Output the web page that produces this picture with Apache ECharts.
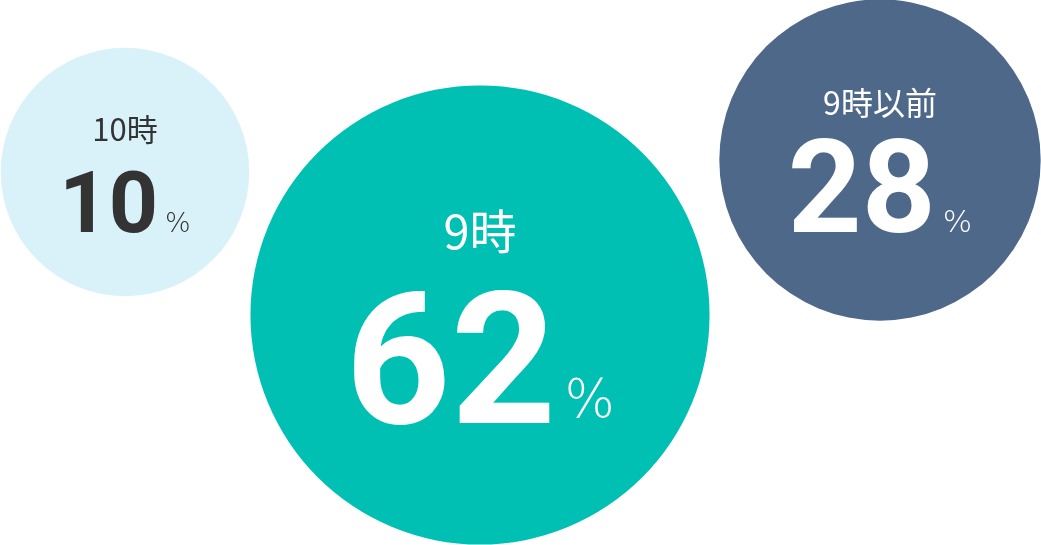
<!DOCTYPE html>
<html>
<head>
<meta charset="utf-8">
<script src="https://cdn.jsdelivr.net/npm/echarts@6/dist/echarts.min.js"></script>
<style>
  html, body { margin: 0; padding: 0; background: #fff; }
  #main { width: 1041px; height: 545px; }
</style>
</head>
<body>
<div id="main"></div>
<script>
// data
var names = ['10時', '9時', '9時以前'];
var shares = [10, 62, 28];
var xPos = [125, 480, 880];
var yPos = [172, 315, 160];

// styles
var fills = ['#d9f2fa', '#00bfb3', '#4d6889'];
var textColors = ['#333333', '#ffffff', '#ffffff'];
var titleSizes = [31, 47, 32];
var numSizes = [86, 184, 129];
var pctSizes = [27, 53, 31];
var pctGaps = [7, 8, 7];
var titleLines = [107, 183, 113];
var numLines = [56, 107, 80];
var labelShift = [-15, -30, -17];

var myChart = echarts.init(document.getElementById('main'));

var points = [];
for (var i = 0; i < names.length; i++) {
    points.push({
        name: names[i],
        value: [xPos[i], yPos[i], shares[i]],
        itemStyle: { color: fills[i], opacity: 1 },
        label: {
            color: textColors[i],
            offset: [0, labelShift[i]],
            rich: {
                t: {
                    fontFamily: 'Noto Sans CJK JP',
                    fontSize: titleSizes[i],
                    color: textColors[i],
                    lineHeight: titleLines[i]
                },
                n: {
                    fontFamily: 'Roboto',
                    fontWeight: 700,
                    fontSize: numSizes[i],
                    color: textColors[i],
                    lineHeight: numLines[i]
                },
                p: {
                    fontFamily: 'DejaVu Sans',
                    fontWeight: 200,
                    fontSize: pctSizes[i],
                    color: textColors[i],
                    padding: [0, 0, 0, pctGaps[i]],
                    lineHeight: numLines[i],
                    verticalAlign: 'bottom'
                }
            }
        }
    });
}

var option = {
    animation: false,
    grid: { left: 0, right: 1, top: 0, bottom: 0 },
    xAxis: { type: 'value', min: 0, max: 1040, show: false },
    yAxis: { type: 'value', min: 0, max: 545, inverse: true, show: false },
    series: [{
        type: 'scatter',
        symbol: 'circle',
        symbolSize: function (val) {
            return 208 + 4.05 * val[2];
        },
        label: {
            show: true,
            position: 'inside',
            align: 'center',
            formatter: function (p) {
                return '{t|' + p.name + '}\n{n|' + p.value[2] + '}{p|%}';
            }
        },
        emphasis: { disabled: true },
        data: points
    }]
};

myChart.setOption(option);
</script>
</body>
</html>
